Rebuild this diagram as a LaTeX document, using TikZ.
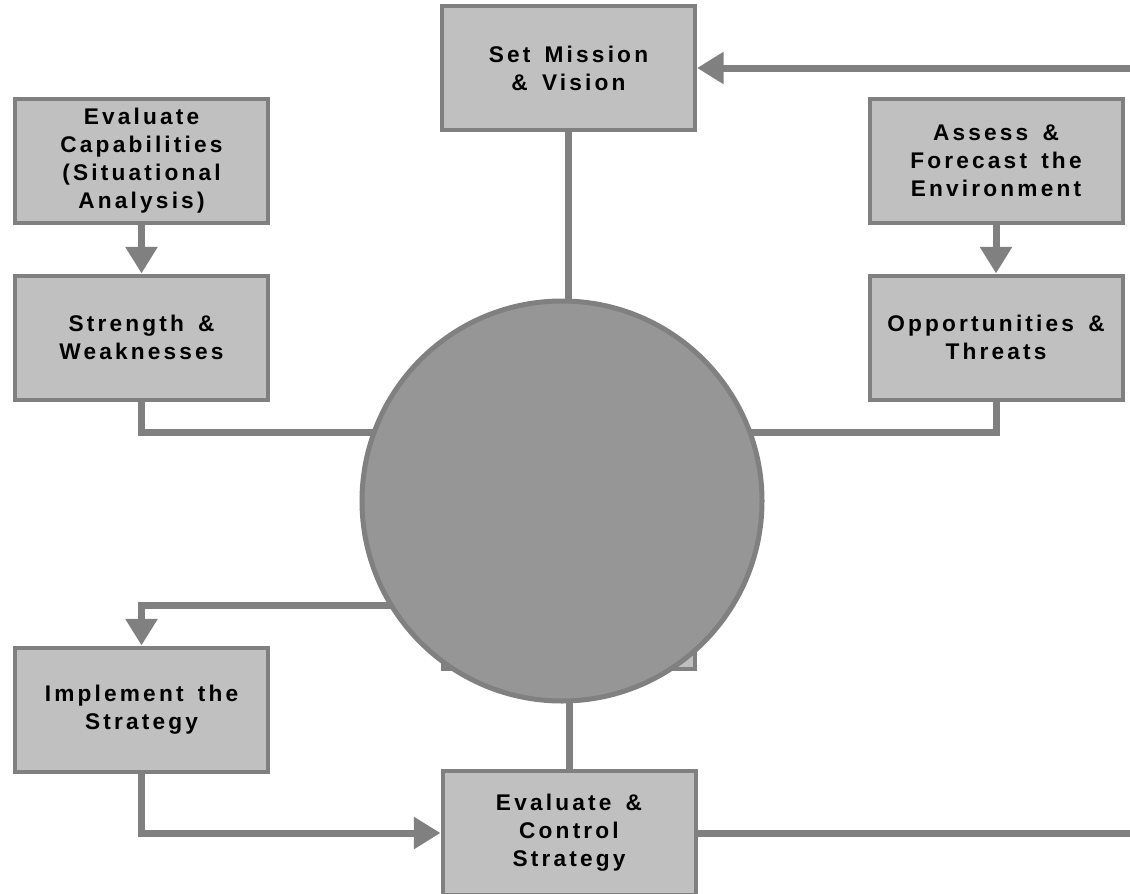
\documentclass[tikz,border=0pt]{standalone}
\usepackage{fontspec}
\setmainfont{Liberation Sans}
\newfontfamily\labelfont[LetterSpace=14,WordSpace=1.5]{Liberation Sans Bold}
\usetikzlibrary{arrows.meta,backgrounds}
\definecolor{boxfill}{HTML}{C0C0C0}
\definecolor{edge}{HTML}{808080}
\definecolor{disc}{HTML}{969696}
\begin{document}
\begin{tikzpicture}[x=0.75pt,y=-0.75pt,
  stagebox/.style={rectangle, draw=edge, fill=boxfill, line width=3pt,
    minimum width=189.75pt, minimum height=93pt, align=center, inner sep=0pt,
    font=\labelfont\fontsize{17}{21}\selectfont},
  link/.style={draw=edge, line width=5.25pt, line cap=round},
  flow/.style={link, -{Triangle[length=20pt,width=23pt]}}]
\useasboundingbox (0,0) rectangle (1130,893);
\clip (0,0) rectangle (1130,893);

\node[stagebox] (mission) at (568.5,68) {Set Mission\\\& Vision};
\node[stagebox] (evalcap) at (141.5,160.5) {Evaluate\\Capabilities\\(Situational\\Analysis)};
\node[stagebox] (strength) at (141.5,337.5) {Strength \&\\Weaknesses};
\node[stagebox] (assess) at (996,161) {Assess \&\\Forecast the\\Environment};
\node[stagebox] (opp) at (996,337.5) {Opportunities \&\\Threats};
\node[stagebox] (impl) at (141.5,709.5) {Implement the\\Strategy};
\node[stagebox] (control) at (569,833) {Evaluate \&\\Control\\Strategy};

\coordinate (hub) at (562,501);
\coordinate (topin) at (1135,68);
\coordinate (botout) at (1135,833);
\coordinate (sj) at (141.5,432);
\coordinate (oj) at (996,432);
\coordinate (ij) at (141.5,605);
\coordinate (cj) at (141.5,833);

\begin{scope}[on background layer]
  % box partly hidden behind the disc
  \draw[draw=edge, fill=boxfill, line width=3pt] (443,460) rectangle (695,669);
  \draw[link] (mission.south) -- (mission.south |- hub);
  \draw[link] (strength.south) -- (sj) -- (sj -| hub);
  \draw[link] (opp.south) -- (oj) -- (oj -| hub);
  \draw[link] (control.north) -- (control.north |- hub);
  \draw[flow] (ij -| hub) -- (ij) -- (impl.north);
\end{scope}

\node[circle, draw=edge, fill=disc, line width=3.75pt, minimum size=300pt] (core) at (hub) {};

\draw[flow] (topin) -- (mission.east);
\draw[flow] (evalcap.south) -- (strength.north);
\draw[flow] (assess.south) -- (opp.north);
\draw[flow] (impl.south) -- (cj) -- (control.west |- cj);
\draw[link] (control.east |- botout) -- (botout);
\end{tikzpicture}
\end{document}
